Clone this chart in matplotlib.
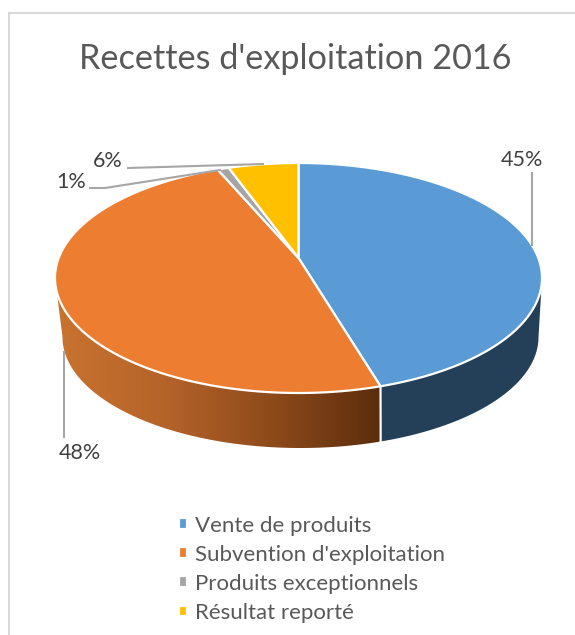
import numpy as np
import matplotlib
matplotlib.use("Agg")
import matplotlib.pyplot as plt
from matplotlib.patches import Polygon
from matplotlib.colors import LinearSegmentedColormap

categories = ["Vente de produits", "Subvention d'exploitation", "Produits exceptionnels", "Résultat reporté"]
values = [45.4, 48.2, 0.9, 5.5]
colors = ["#5B9BD5", "#ED7D31", "#A5A5A5", "#FFC000"]
title = "Recettes d'exploitation 2016"
pct_labels = ["45%", "48%", "1%", "6%"]
label_pos = [(522, 160), (80, 453), (71, 182), (108, 161)]
leaders = [[(532, 173), (532, 245)], [(64, 352), (64, 437)],
           [(90, 188), (105, 188), (220, 170)], [(128, 168), (263, 164)]]

W, H = 575, 635
plt.rcParams['font.family'] = ['Lato', 'DejaVu Sans']
fig = plt.figure(figsize=(W / 100, H / 100), dpi=100, facecolor="white")

ax = fig.add_axes([0, 0, 1, 1])
ax.set_xlim(0, W); ax.set_ylim(H, 0); ax.axis("off")

# top rim ellipse, perspective tilt, bottom rim ellipse
cx, cy, a, b, k = 298.5, 278, 243.5, 115, 0.174
cx2, cy2, a2, b2 = 300.5, 337, 238, 111


def project(t_deg):
    """Clockwise angle from top on the pie -> pixel position, with a perspective tilt."""
    t = np.radians(t_deg)
    u, v = np.sin(t), np.cos(t)
    X = u * np.sqrt(1 - k ** 2) / (1 + k * v)
    Y = (v + k) / (1 + k * v)
    return np.c_[cx + a * X, cy - b * Y]


apex = np.array([cx, cy - b * k])
edges = 3.6 * np.cumsum([0] + values)

handles = []
for i, c in enumerate(colors):
    arc = project(np.linspace(edges[i], edges[i + 1], 300))
    handles.append(ax.add_patch(Polygon(np.vstack([apex, arc]), closed=True, facecolor=c,
                                        edgecolor="white", linewidth=1.6, zorder=3,
                                        joinstyle="round")))


def rim(p0, p1):
    s = np.linspace(p0, p1, 200)
    top = np.c_[cx + a * np.cos(s), cy + b * np.sin(s)]
    bot = np.c_[cx2 + a2 * np.cos(s), cy2 + b2 * np.sin(s)]
    return np.vstack([top, bot[::-1]])


split = project(np.array([edges[1]]))[0]
s_split = np.arctan2((split[1] - cy) / b, (split[0] - cx) / a)
split_bot = (cx2 + a2 * np.cos(s_split), cy2 + b2 * np.sin(s_split))

ax.add_patch(Polygon(rim(0, s_split), closed=True, facecolor="#243F58", edgecolor="none", zorder=1))
ow = rim(s_split, np.pi)
poly = Polygon(ow, closed=True, facecolor="none", edgecolor="none")
ax.add_patch(poly)
cmap = LinearSegmentedColormap.from_list("w", ["#C9732F", "#B5642A", "#8E4A1B", "#5C2D0D"])
im = ax.imshow(np.linspace(0, 1, 256).reshape(1, -1), cmap=cmap, aspect="auto",
               extent=(cx - a, ow[:, 0].max(), cy2 + b2, cy), zorder=1)
im.set_clip_path(poly)
ax.set_xlim(0, W); ax.set_ylim(H, 0)
ax.plot([split[0], split_bot[0]], [split[1], split_bot[1]], color="white", lw=1.6, zorder=2)

ax.plot([9, 9, W], [H, 13, 13], color="#D9D9D9", lw=1.5, solid_joinstyle="miter", zorder=0)

ax.text(295, 59, title, ha="center", va="center", fontsize=24.7, color="#595959")
for lbl, (x, y) in zip(pct_labels, label_pos):
    ax.text(x, y, lbl, ha="center", va="center", fontsize=15.5, color="#404040")
for pts in leaders:
    p = np.array(pts)
    ax.plot(p[:, 0], p[:, 1], color="#A6A6A6", lw=1.5, zorder=4)

ax.legend(handles, categories, loc="upper left", bbox_to_anchor=(179 / W, 1 - 515.5 / H),
          bbox_transform=fig.transFigure, frameon=False, fontsize=16, labelcolor="#595959",
          handlelength=0.36, handleheight=0.36, handletextpad=0.36, labelspacing=0.41,
          borderaxespad=0, borderpad=0)

fig.savefig("out.png", dpi=100)
